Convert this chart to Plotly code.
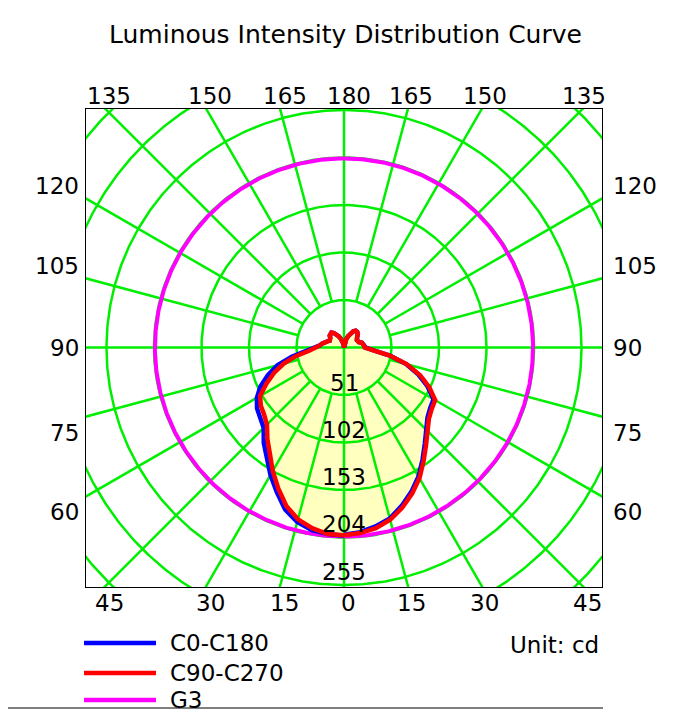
import numpy as np
import plotly.graph_objects as go

# gamma angles (deg), 0 = straight down
gamma = list(range(0, 181, 5))

# C0-C180 (blue), right half C0 and left half C180
c0 = [201, 199, 195, 190, 181, 171, 160, 147, 135, 125, 117, 113, 111, 99, 85, 69, 50, 31, 23,
      22, 21, 20, 17, 16, 16, 17, 19, 21, 22, 22, 20, 17, 13, 9, 5, 2, 0]
c180 = [202, 201, 199, 194, 185, 171, 158, 144, 134, 122, 117, 114, 108, 99, 87, 74, 57, 40, 31,
        26, 24, 22, 19, 17, 17, 18, 20, 21, 21, 19, 16, 13, 10, 7, 4, 2, 0]
# C90-C270 (red), right half C90 and left half C270
c90 = [201.5, 200, 197, 191.5, 183, 173, 162, 149, 137, 127, 119, 115, 113, 101, 87, 70, 50, 30, 22,
       21.5, 21, 20, 17, 16, 16, 17, 19, 21, 22, 22, 20, 17, 13, 9, 5, 2, 0]
c270 = [201.5, 201, 197, 191, 181, 167, 153, 139, 128, 117, 112, 109, 104, 92, 80, 67, 52, 37, 30,
        26, 24, 22, 19, 17, 17, 18, 20, 21, 21, 19, 16, 13, 10, 7, 4, 2, 0]
g3 = 203

ring_values = [51, 102, 153, 204, 255, 306, 357]
ring_labels = ["51", "102", "153", "204", "255"]
spoke_step = 15

top_labels = ["135", "150", "165", "180", "165", "150", "135"]
side_labels = ["120", "105", "90", "75", "60"]
bottom_labels = ["45", "30", "15", "0", "15", "30", "45"]

W, H = 691, 713
PAGE_PAD = 8  # the page body margin
FONT = "Verdana, DejaVu Sans, sans-serif"
GREEN = "#00ee00"


def loop_xy(right, left):
    g = np.radians(gamma)
    r1 = np.array(right, float)
    r2 = np.array(left, float)[::-1]
    g2 = g[::-1]
    x = np.concatenate([r1 * np.sin(g), -r2 * np.sin(g2)])
    y = np.concatenate([-r1 * np.cos(g), -r2 * np.cos(g2)])
    return x, y


def px(x):
    return (x - PAGE_PAD) / W


def py(y):
    return 1 - (y - PAGE_PAD) / H


fig = go.Figure()

# fills
for right, left in [(c0, c180), (c90, c270)]:
    x, y = loop_xy(right, left)
    fig.add_trace(go.Scatter(x=x, y=y, mode="lines", fill="toself", fillcolor="#ffffc0",
                             line=dict(width=0), hoverinfo="skip", showlegend=False))

# grid rings
t = np.linspace(0, 2 * np.pi, 721)
gx, gy = [], []
for r in ring_values:
    gx += list(r * np.cos(t)) + [None]
    gy += list(r * np.sin(t)) + [None]
# spokes
for a in range(0, 360, spoke_step):
    ar = np.radians(a)
    r0 = 0 if a % 90 == 0 else ring_values[0]
    gx += [r0 * np.sin(ar), 500 * np.sin(ar), None]
    gy += [-r0 * np.cos(ar), -500 * np.cos(ar), None]
fig.add_trace(go.Scatter(x=gx, y=gy, mode="lines", line=dict(color=GREEN, width=2.5),
                         hoverinfo="skip", showlegend=False))

# G3 circle
fig.add_trace(go.Scatter(x=g3 * np.sin(t), y=g3 * np.cos(t), mode="lines",
                         line=dict(color="#ff00ff", width=4), name="G3", showlegend=False))

x, y = loop_xy(c0, c180)
fig.add_trace(go.Scatter(x=x, y=y, mode="lines", line=dict(color="#0000ff", width=4.5),
                         name="C0-C180", showlegend=False))
x, y = loop_xy(c90, c270)
fig.add_trace(go.Scatter(x=x, y=y, mode="lines", line=dict(color="#ff0000", width=4.5),
                         name="C90-C270", showlegend=False))

ann = []
# ring labels
for lab, yy in zip(ring_labels, [383, 430, 477, 524, 572]):
    ann.append(dict(x=px(344), y=py(yy), text=lab))
for lab, xx in zip(top_labels, [109, 210, 284.5, 348.5, 411, 485, 584]):
    ann.append(dict(x=px(xx), y=py(96), text=lab))
for lab, xx in zip(bottom_labels, [109, 210, 284.5, 348, 411, 485, 587]):
    ann.append(dict(x=px(xx), y=py(603), text=lab))
for lab, yy in zip(side_labels, [186, 266, 348, 433, 512]):
    ann.append(dict(x=px(81), y=py(yy), text=lab, xanchor="right"))
    ann.append(dict(x=px(611), y=py(yy), text=lab, xanchor="left"))
ann.append(dict(x=px(345), y=py(35), text="Luminous Intensity Distribution Curve",
                font=dict(size=25, family=FONT, color="black")))
ann.append(dict(x=px(601), y=py(645), text="Unit: cd", xanchor="right"))

shapes = []
legend_items = [("C0-C180", "#0000ff", 643), ("C90-C270", "#ff0000", 673), ("G3", "#ff00ff", 700)]
for name, col, yy in legend_items:
    shapes.append(dict(type="line", xref="paper", yref="paper", x0=px(84), x1=px(156),
                       y0=py(yy), y1=py(yy), line=dict(color=col, width=4.5)))
    ann.append(dict(x=px(168), y=py(yy), text=name, xanchor="left"))
shapes.append(dict(type="line", xref="paper", yref="paper", x0=0, x1=px(603),
                   y0=py(708), y1=py(708), line=dict(color="black", width=1)))

for a in ann:
    a.setdefault("xref", "paper")
    a.setdefault("yref", "paper")
    a.setdefault("showarrow", False)
    a.setdefault("xanchor", "center")
    a.setdefault("yanchor", "middle")
    a.setdefault("font", dict(size=23, family=FONT, color="black"))

scale = 0.9314  # px per cd
cx, cy = 344, 347.5
left, right, top, bottom = 85.7, 602.3, 109, 587

fig.update_layout(
    width=W, height=H,
    margin=dict(l=0, r=0, t=0, b=0),
    paper_bgcolor="white", plot_bgcolor="white",
    annotations=ann, shapes=shapes,
    xaxis=dict(domain=[px(left), px(right)],
               range=[(left - cx) / scale, (right - cx) / scale],
               showgrid=False, zeroline=False, showticklabels=False, ticks="",
               showline=True, linecolor="black", linewidth=1, mirror=True, fixedrange=True),
    yaxis=dict(domain=[py(bottom), py(top)],
               range=[(cy - bottom) / scale, (cy - top) / scale],
               showgrid=False, zeroline=False, showticklabels=False, ticks="",
               showline=True, linecolor="black", linewidth=1, mirror=True, fixedrange=True),
)

fig.write_html("out.html")
